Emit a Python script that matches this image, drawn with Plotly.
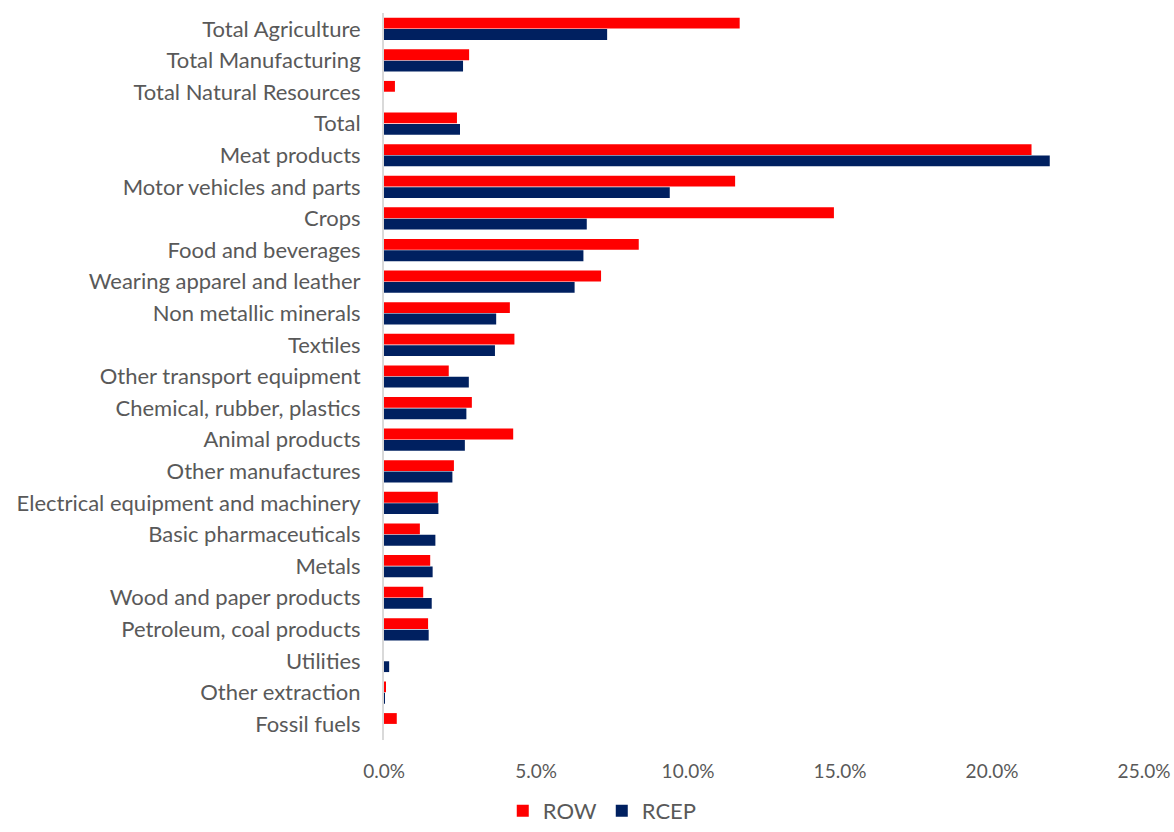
import plotly.graph_objects as go

# Sectors, top to bottom
sectors = [
    "Total Agriculture", "Total Manufacturing", "Total Natural Resources", "Total",
    "Meat products", "Motor vehicles and parts", "Crops", "Food and beverages",
    "Wearing apparel and leather", "Non metallic minerals", "Textiles",
    "Other transport equipment", "Chemical, rubber, plastics", "Animal products",
    "Other manufactures", "Electrical equipment and machinery", "Basic pharmaceuticals",
    "Metals", "Wood and paper products", "Petroleum, coal products", "Utilities",
    "Other extraction", "Fossil fuels",
]

# Percentage change, in fractions
row_values = [
    0.1170, 0.0280, 0.0036, 0.0240,
    0.2130, 0.1155, 0.1480, 0.0838,
    0.0714, 0.0414, 0.0429,
    0.0213, 0.0289, 0.0425,
    0.0230, 0.0177, 0.0118,
    0.0152, 0.0129, 0.0145, 0.0000,
    0.0006, 0.0042,
]
rcep_values = [
    0.0734, 0.0260, 0.0000, 0.0250,
    0.2190, 0.0940, 0.0667, 0.0656,
    0.0627, 0.0369, 0.0365,
    0.0279, 0.0271, 0.0266,
    0.0225, 0.0179, 0.0169,
    0.0160, 0.0157, 0.0147, 0.0017,
    0.0003, 0.0000,
]

x_ticks = [0, 0.05, 0.10, 0.15, 0.20, 0.25]

font_family = "Lato, 'Open Sans', sans-serif"
grey = "#595959"

fig = go.Figure()
fig.add_trace(go.Bar(
    name="ROW", y=sectors, x=row_values, orientation="h",
    marker=dict(color="#FF0000", line=dict(width=0)),
))
fig.add_trace(go.Bar(
    name="RCEP", y=sectors, x=rcep_values, orientation="h",
    marker=dict(color="#002060", line=dict(width=0)),
))

fig.update_layout(
    width=1174, height=832,
    margin=dict(l=384, r=30, t=13, b=92, autoexpand=False),
    paper_bgcolor="white", plot_bgcolor="white",
    barmode="group", bargap=0.28, bargroupgap=0.05,
    font=dict(family=font_family, color=grey),
    showlegend=True,
    legend=dict(
        orientation="h", xref="container", yref="container",
        x=0.513, xanchor="center", y=0.0, yanchor="bottom",
        font=dict(size=22, color=grey), itemwidth=30,
        traceorder="normal", bgcolor="rgba(0,0,0,0)",
    ),
    xaxis=dict(
        range=[0, 0.25], tickvals=x_ticks, tickformat=".1%",
        showgrid=False, zeroline=False, showline=False, automargin=False,
        tickfont=dict(size=19, color=grey), ticks="", ticklabelstandoff=18,
    ),
    yaxis=dict(
        autorange="reversed", showgrid=False, zeroline=False, automargin=False,
        showline=True, linecolor="#d9d9d9", linewidth=2,
        tickfont=dict(size=22, color=grey), ticks="", ticklabelstandoff=17,
    ),
)

# Nudge the legend box down so its entries sit close to the bottom edge
fig.update_layout(legend=dict(y=-0.008))

fig.write_html("out.html")
